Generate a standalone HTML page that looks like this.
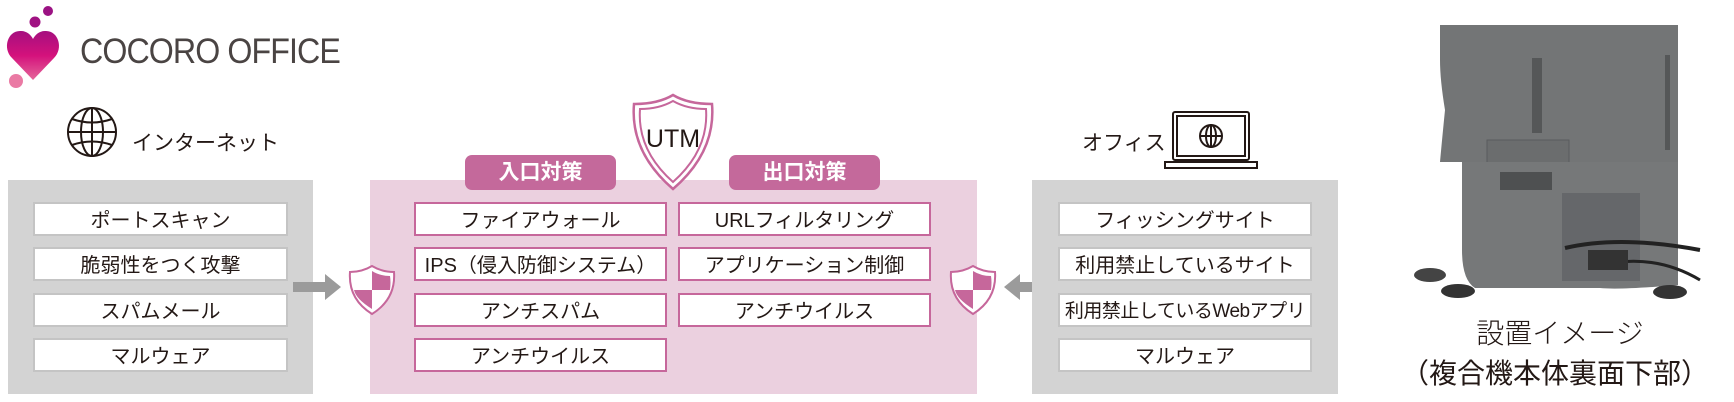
<!DOCTYPE html>
<html><head><meta charset="utf-8"><style>
body{margin:0;width:1734px;height:402px;background:#fff;position:relative;overflow:hidden;font-family:"Liberation Sans","Noto Sans CJK JP",sans-serif;color:#231815}
.a{position:absolute}
.gbox{position:absolute;background:#d3d3d3}
.pbox{position:absolute;background:#ebd0df}
.it{position:absolute;height:34px;line-height:34px;text-align:center;font-size:20px;background:#fff;box-sizing:border-box}
.g .it{border:2px solid #c4c4c4}
.pk{border:2px solid #c6679b}
.lab{position:absolute;background:#c4699b;color:#fff;border-radius:7px;text-align:center;font-size:21px;font-weight:600;height:35px;line-height:35px;top:155px}
</style></head><body>
<svg class="a" style="left:0;top:0" width="80" height="95" viewBox="0 0 80 95">
<defs><linearGradient id="hg" x1="0" y1="0" x2="0" y2="1"><stop offset="0" stop-color="#a5107f"/><stop offset=".5" stop-color="#d4117c"/><stop offset="1" stop-color="#e5679a"/></linearGradient></defs>
<circle cx="48" cy="11" r="5" fill="#9b1283"/><circle cx="35" cy="22" r="5.5" fill="#a01282"/>
<path d="M33 80 L12 58 C2 48 8 30 21 31 C27 31 31 35 33 39 C35 35 39 31 45 31 C58 30 64 48 54 58 Z" fill="url(#hg)"/>
<circle cx="16" cy="81" r="7" fill="#ea7aa4"/>
</svg>
<div class="a" style="left:80px;top:32px;font-size:35px;color:#4a4443;letter-spacing:-1px;transform:scaleX(.92);transform-origin:left">COCORO OFFICE</div>
<svg class="a" style="left:66px;top:106px" width="52" height="52" viewBox="0 0 52 52" fill="none" stroke="#231815" stroke-width="2">
<circle cx="26" cy="26" r="24"/><ellipse cx="26" cy="26" rx="11" ry="24"/><line x1="26" y1="2" x2="26" y2="50"/><line x1="2" y1="26" x2="50" y2="26"/><path d="M6 13 Q26 20 46 13 M6 39 Q26 32 46 39"/></svg>
<div class="a" style="left:132px;top:127px;font-size:21px">インターネット</div>
<div class="gbox g" style="left:8px;top:180px;width:305px;height:214px">
<div class="it" style="left:25px;top:22px;width:255px">ポートスキャン</div>
<div class="it" style="left:25px;top:67px;width:255px">脆弱性をつく攻撃</div>
<div class="it" style="left:25px;top:113px;width:255px">スパムメール</div>
<div class="it" style="left:25px;top:158px;width:255px">マルウェア</div>
</div>
<div class="pbox" style="left:370px;top:180px;width:607px;height:214px"></div>
<div class="it pk" style="left:414px;top:202px;width:253px">ファイアウォール</div>
<div class="it pk" style="left:414px;top:247px;width:253px">IPS（侵入防御システム）</div>
<div class="it pk" style="left:414px;top:293px;width:253px">アンチスパム</div>
<div class="it pk" style="left:414px;top:338px;width:253px">アンチウイルス</div>
<div class="it pk" style="left:678px;top:202px;width:253px">URLフィルタリング</div>
<div class="it pk" style="left:678px;top:247px;width:253px">アプリケーション制御</div>
<div class="it pk" style="left:678px;top:293px;width:253px">アンチウイルス</div>
<div class="lab" style="left:465px;width:151px">入口対策</div>
<div class="lab" style="left:729px;width:151px">出口対策</div>
<svg class="a" style="left:628px;top:92px" width="90" height="100" viewBox="0 0 90 100">
<path d="M45 3 Q30 12 6 12 Q2 60 45 97 Q88 60 84 12 Q60 12 45 3Z" fill="#fff" stroke="#c6679b" stroke-width="2.5"/>
<path d="M45 9 Q31 17 12 17 Q9 58 45 90 Q81 58 78 17 Q59 17 45 9Z" fill="none" stroke="#c6679b" stroke-width="2"/>
<text x="45" y="55" text-anchor="middle" font-family="Liberation Sans" font-size="25" fill="#231815">UTM</text></svg>
<svg class="a" style="left:293px;top:272px" width="50" height="30"><path d="M0 10 H32 V2 L48 15 L32 28 V20 H0Z" fill="#9b9b9b"/></svg>
<svg class="a" style="left:1002px;top:272px" width="50" height="30"><path d="M50 10 H18 V2 L2 15 L18 28 V20 H50Z" fill="#9b9b9b"/></svg>
<svg class="a" style="left:347px;top:264px" width="50" height="52" viewBox="0 0 50 52">
<path d="M25 2 Q15 8 3 8 Q1 35 25 50 Q49 35 47 8 Q35 8 25 2Z" fill="#fff" stroke="#c6679b" stroke-width="2"/>
<path d="M25 7 V26 H43 Q44 18 43 12 Q33 12 25 7Z M25 26 V45 Q9 35 7 26Z" fill="#c6679b"/></svg>
<svg class="a" style="left:948px;top:264px" width="50" height="52" viewBox="0 0 50 52">
<path d="M25 2 Q15 8 3 8 Q1 35 25 50 Q49 35 47 8 Q35 8 25 2Z" fill="#fff" stroke="#c6679b" stroke-width="2"/>
<path d="M25 7 V26 H43 Q44 18 43 12 Q33 12 25 7Z M25 26 V45 Q9 35 7 26Z" fill="#c6679b"/></svg>
<div class="a" style="left:1082px;top:127px;font-size:21px">オフィス</div>
<svg class="a" style="left:1163px;top:110px" width="96" height="62" viewBox="0 0 96 62" fill="none" stroke="#231815" stroke-width="2">
<rect x="10" y="2" width="76" height="48" rx="2"/><rect x="14" y="6" width="68" height="40"/><path d="M2 52 H94 V58 H2Z"/>
<circle cx="48" cy="26" r="11"/><ellipse cx="48" cy="26" rx="5" ry="11"/><line x1="37" y1="26" x2="59" y2="26"/><line x1="48" y1="15" x2="48" y2="37"/></svg>
<div class="gbox g" style="left:1032px;top:180px;width:306px;height:214px">
<div class="it" style="left:26px;top:22px;width:254px">フィッシングサイト</div>
<div class="it" style="left:26px;top:67px;width:254px">利用禁止しているサイト</div>
<div class="it" style="left:26px;top:113px;width:254px;font-size:19px;letter-spacing:-.5px">利用禁止しているWebアプリ</div>
<div class="it" style="left:26px;top:158px;width:254px">マルウェア</div>
</div>
<svg class="a" style="left:1410px;top:20px" width="300" height="285" viewBox="1410 20 300 285">
<path d="M1440 25 H1678 V162 H1440 Q1442 140 1445 110 Q1440 80 1440 60Z" fill="#737576"/>
<rect x="1532" y="58" width="10" height="75" fill="#555758"/>
<rect x="1665" y="55" width="5" height="95" fill="#555758"/>
<rect x="1487" y="140" width="82" height="38" fill="#6b6d6e" stroke="#5a5c5d"/>
<rect x="1645" y="163" width="13" height="16" fill="#111"/>
<path d="M1462 162 H1678 V285 Q1620 290 1600 288 H1475 Q1462 280 1462 250Z" fill="#767879"/>
<rect x="1500" y="172" width="52" height="18" fill="#4e5051"/>
<rect x="1562" y="193" width="78" height="88" fill="#65676a"/>
<path d="M1565 248 Q1620 235 1700 250" stroke="#222" stroke-width="4" fill="none"/>
<path d="M1590 268 Q1650 250 1700 280" stroke="#222" stroke-width="3" fill="none"/>
<rect x="1588" y="250" width="40" height="20" fill="#333"/>
<ellipse cx="1430" cy="275" rx="16" ry="7" fill="#444"/><ellipse cx="1458" cy="291" rx="17" ry="7" fill="#333"/>
<ellipse cx="1670" cy="292" rx="17" ry="7" fill="#333"/>
</svg>
<div class="a" style="left:1410px;top:312px;width:300px;text-align:center;font-size:28px;font-weight:300">設置イメージ</div>
<div class="a" style="left:1400px;top:352px;width:310px;text-align:center;font-size:28px">（複合機本体裏面下部）</div>
</body></html>
